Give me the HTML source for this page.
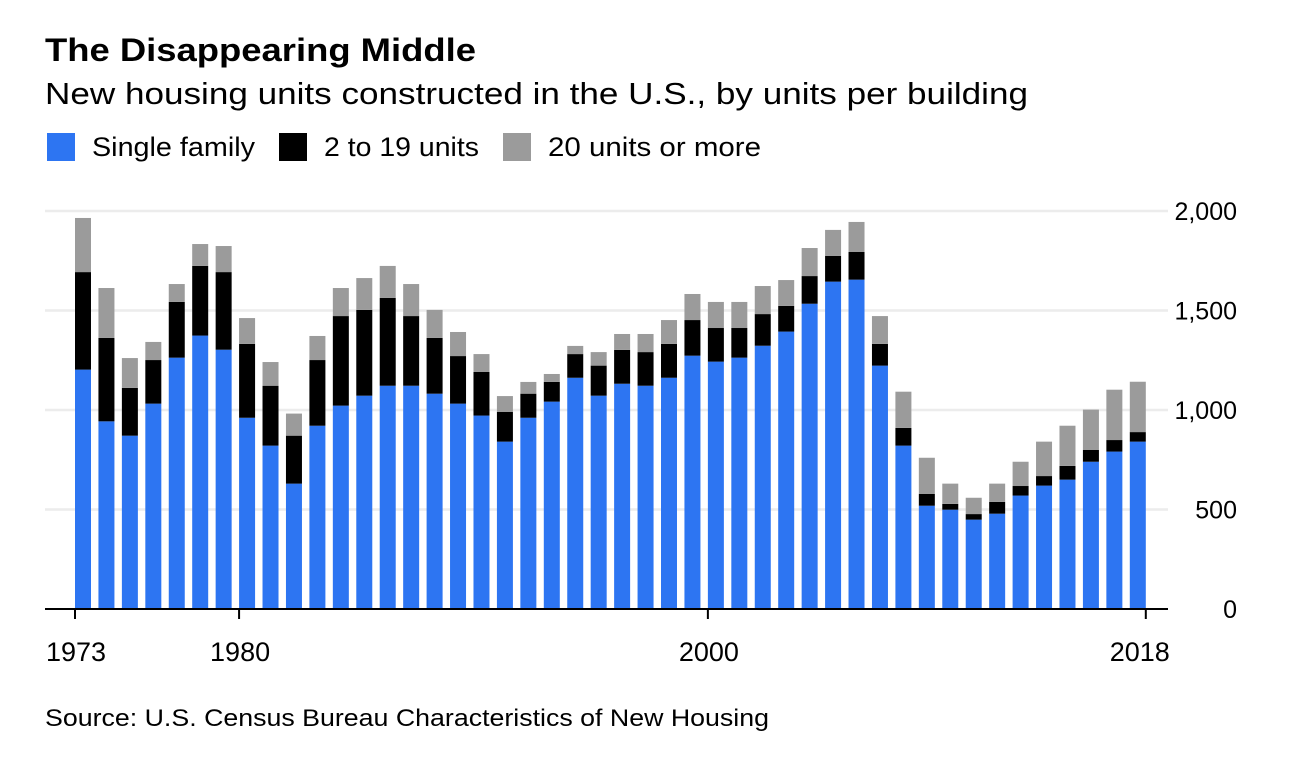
<!DOCTYPE html>
<html><head><meta charset="utf-8"><style>
body{margin:0;background:#fff;width:1310px;height:762px;overflow:hidden;font-family:"Liberation Sans",sans-serif;}
</style></head><body>
<svg width="1310" height="762" font-family="Liberation Sans, sans-serif">
<text x="45" y="61" font-size="32" font-weight="bold" fill="#000" textLength="431" lengthAdjust="spacingAndGlyphs">The Disappearing Middle</text>
<text x="45" y="104" font-size="31" fill="#000" textLength="983" lengthAdjust="spacingAndGlyphs">New housing units constructed in the U.S., by units per building</text>
<g>
<rect x="47" y="133" width="28" height="28" fill="#2d75f2"/>
<text x="92" y="156" font-size="27" textLength="163" lengthAdjust="spacingAndGlyphs">Single family</text>
<rect x="279" y="133" width="28" height="28" fill="#000"/>
<text x="324" y="156" font-size="27" textLength="155" lengthAdjust="spacingAndGlyphs">2 to 19 units</text>
<rect x="503" y="133" width="28" height="28" fill="#9b9b9b"/>
<text x="548" y="156" font-size="27" textLength="213" lengthAdjust="spacingAndGlyphs">20 units or more</text>
</g>
<g id="grid"></g><g id="bars"></g><g id="axes"></g>
<text x="45" y="726" font-size="24" fill="#000" textLength="724" lengthAdjust="spacingAndGlyphs">Source: U.S. Census Bureau Characteristics of New Housing</text>
</svg>
<script>
const years=[];for(let y=1973;y<=2018;y++)years.push(y);
const single=[1203,943,871,1032,1263,1374,1303,961,821,630,921,1022,1072,1122,1122,1082,1032,972,841,961,1042,1162,1072,1132,1122,1162,1273,1243,1263,1323,1394,1534,1645,1655,1223,821,519,499,449,479,570,620,650,740,791,841];
const mid=[490,419,240,219,280,350,390,371,301,241,330,450,431,441,350,280,239,219,149,121,99,119,151,170,169,170,179,169,149,159,129,139,129,139,109,89,59,29,28,59,48,48,69,59,58,48];
const large=[272,251,150,91,90,110,131,130,119,111,121,141,160,161,161,141,121,90,80,59,40,41,68,80,91,120,131,131,131,141,130,141,131,151,140,182,182,102,82,92,122,173,202,203,253,253];
const yTicks=[0,500,1000,1500,2000];
const yTickLabels=["0","500","1,000","1,500","2,000"];
const xTickYears=[1973,1980,2000,2018];
const NS="http://www.w3.org/2000/svg";
const y0=609,yScale=398/2000,x0=75,step=23.44,bw=16;
const Y=v=>y0-v*yScale;
const X=i=>x0+i*step;
function mk(t,a,p){const e=document.createElementNS(NS,t);for(const k in a)e.setAttribute(k,a[k]);p.appendChild(e);return e;}
const grid=document.getElementById('grid'),bars=document.getElementById('bars'),axes=document.getElementById('axes');
yTicks.forEach((v,i)=>{
 if(v>0){const l=mk('line',{x1:45,x2:1168,y1:Y(v),y2:Y(v),stroke:'#ececec','stroke-width':2.5},grid);
 
 }
 const t=mk('text',{x:1237,y:Y(v)+9,'font-size':25,'text-anchor':'end',fill:'#000'},axes);t.textContent=yTickLabels[i];
 
 
});
years.forEach((yr,i)=>{
 const segs=[[single[i],'#2d75f2','bar-single'],[mid[i],'#000','bar-2-19'],[large[i],'#9b9b9b','bar-20plus']];
 let base=0;
 segs.forEach(s=>{const r=mk('rect',{x:X(i),y:Y(base+s[0]),width:bw,height:s[0]*yScale,fill:s[1]},bars);
 
 
 base+=s[0];});
});
const ax=mk('line',{x1:45,x2:1168,y1:y0,y2:y0,stroke:'#000','stroke-width':2},axes);


xTickYears.forEach(yr=>{
 const i=years.indexOf(yr);const x=yr===2018?X(i)+bw:X(i);
 const tk=mk('line',{x1:x,x2:x,y1:y0,y2:y0+10,stroke:'#000','stroke-width':2},axes);
 
 
 const t=mk('text',{x:yr===2018?x-6:x+1,y:y0+52,'font-size':27,'text-anchor':'middle'},axes);t.textContent=yr;
 
 
});
</script>
</body></html>
